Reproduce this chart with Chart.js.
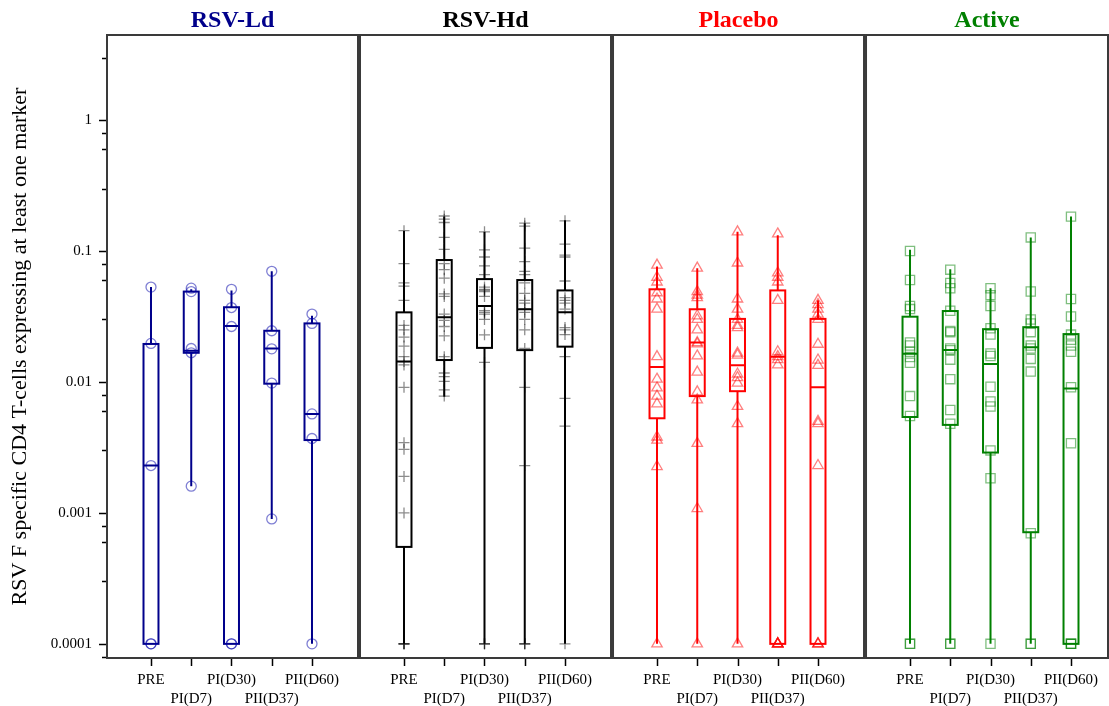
<!DOCTYPE html>
<html>
<head>
<meta charset="utf-8">
<script src="https://cdn.jsdelivr.net/npm/chart.js@4"></script>
<style>
  body { margin: 0; background: #fff; }
  #wrap { width: 1109px; height: 706px; }
</style>
</head>
<body>
<div id="wrap"><canvas id="chartBox" width="1109" height="706"></canvas></div>
<script>
// categories
const timepoints = ['PRE', 'PI(D7)', 'PI(D30)', 'PII(D37)', 'PII(D60)'];
const groupNames = ['RSV-Ld', 'RSV-Hd', 'Placebo', 'Active'];

// box stats per timepoint: [min, q1, median, q3, max]
const ldBoxes = [
    [0.0001, 0.0001, 0.0023, 0.0195, 0.053],
    [0.0016, 0.0167, 0.0173, 0.049, 0.051],
    [0.0001, 0.0001, 0.0268, 0.0372, 0.050],
    [0.0009, 0.0097, 0.018, 0.0246, 0.070],
    [0.0001, 0.0036, 0.0057, 0.028, 0.032]
];
const hdBoxes = [
    [0.0001, 0.00055, 0.0143, 0.034, 0.143],
    [0.0077, 0.0147, 0.0312, 0.0853, 0.183],
    [0.0001, 0.0182, 0.038, 0.061, 0.14],
    [0.0001, 0.0175, 0.0359, 0.060, 0.163],
    [0.0001, 0.0186, 0.034, 0.050, 0.172]
];
const placeboBoxes = [
    [0.0001, 0.00528, 0.013, 0.051, 0.076],
    [0.0001, 0.0078, 0.020, 0.0359, 0.0737],
    [0.0001, 0.0085, 0.0134, 0.0303, 0.140],
    [0.0001, 0.0001, 0.0156, 0.050, 0.132],
    [0.0001, 0.0001, 0.0091, 0.0303, 0.042]
];
const activeBoxes = [
    [0.0001, 0.0054, 0.0164, 0.0315, 0.102],
    [0.0001, 0.0047, 0.0175, 0.0348, 0.0725],
    [0.0001, 0.00289, 0.0137, 0.0253, 0.052],
    [0.0001, 0.000712, 0.0184, 0.0262, 0.127],
    [0.0001, 0.0001, 0.0089, 0.0232, 0.183]
];

// individual subjects per timepoint
const ldPoints = [
    [0.053, 0.0197, 0.0023, 0.0001, 0.0001],
    [0.052, 0.049, 0.018, 0.0167, 0.0016],
    [0.051, 0.037, 0.0265, 0.0001, 0.0001],
    [0.070, 0.0246, 0.0179, 0.0098, 0.0009],
    [0.033, 0.028, 0.0057, 0.0037, 0.0001]
];
const hdPoints = [
    [0.143, 0.080, 0.057, 0.054, 0.042, 0.027, 0.025, 0.022, 0.0188, 0.0156, 0.0143, 0.0135, 0.0091, 0.00344, 0.00306, 0.0019, 0.001, 0.0001, 0.0001, 0.0001, 0.0001],
    [0.185, 0.175, 0.165, 0.127, 0.103, 0.080, 0.072, 0.062, 0.047, 0.045, 0.033, 0.0295, 0.0265, 0.0225, 0.0156, 0.0148, 0.0117, 0.011, 0.0101, 0.0087, 0.0078],
    [0.14, 0.102, 0.09, 0.077, 0.066, 0.053, 0.051, 0.050, 0.049, 0.045, 0.035, 0.034, 0.033, 0.03, 0.0229, 0.0141, 0.0001, 0.0001, 0.0001],
    [0.163, 0.155, 0.105, 0.083, 0.070, 0.066, 0.057, 0.0475, 0.042, 0.040, 0.036, 0.034, 0.030, 0.025, 0.018, 0.0091, 0.0023, 0.0001, 0.0001, 0.0001],
    [0.17, 0.113, 0.093, 0.09, 0.059, 0.044, 0.042, 0.040, 0.036, 0.026, 0.025, 0.023, 0.0156, 0.0075, 0.0046, 0.0001]
];
const placeboPoints = [
    [0.078, 0.063, 0.058, 0.048, 0.043, 0.036, 0.0156, 0.0105, 0.009, 0.0078, 0.0068, 0.0038, 0.0036, 0.00226, 0.0001],
    [0.074, 0.049, 0.046, 0.044, 0.032, 0.030, 0.025, 0.020, 0.0195, 0.0158, 0.0119, 0.0084, 0.0073, 0.0034, 0.00108, 0.0001],
    [0.14, 0.081, 0.043, 0.036, 0.030, 0.027, 0.026, 0.0166, 0.016, 0.0115, 0.0108, 0.0098, 0.0065, 0.0048, 0.0001],
    [0.135, 0.068, 0.063, 0.058, 0.042, 0.017, 0.0156, 0.0148, 0.0135, 0.0001, 0.0001, 0.0001, 0.0001, 0.0001],
    [0.042, 0.039, 0.036, 0.033, 0.030, 0.0194, 0.0147, 0.0134, 0.005, 0.0048, 0.0023, 0.0001, 0.0001, 0.0001]
];
const activePoints = [
    [0.1, 0.06, 0.038, 0.036, 0.020, 0.019, 0.017, 0.0155, 0.014, 0.0078, 0.0055, 0.0001, 0.0001],
    [0.072, 0.057, 0.052, 0.035, 0.0245, 0.024, 0.018, 0.0175, 0.0148, 0.0105, 0.0061, 0.0048, 0.0001, 0.0001],
    [0.052, 0.046, 0.038, 0.0257, 0.023, 0.0165, 0.0158, 0.0092, 0.0071, 0.0065, 0.003, 0.00184, 0.0001],
    [0.127, 0.049, 0.030, 0.028, 0.024, 0.019, 0.018, 0.015, 0.012, 0.0007, 0.0001, 0.0001],
    [0.183, 0.043, 0.0316, 0.023, 0.021, 0.019, 0.017, 0.0091, 0.0034, 0.0001, 0.0001, 0.0001]
];

const boxSets = [ldBoxes, hdBoxes, placeboBoxes, activeBoxes];
const pointSets = [ldPoints, hdPoints, placeboPoints, activePoints];

// look
const lineColors = ['#00008B', '#000000', '#FF0000', '#008000'];
const markColors = ['rgba(0,0,170,0.5)', 'rgba(0,0,0,0.45)', 'rgba(255,0,0,0.5)', 'rgba(0,128,0,0.5)'];
const markStyles = ['circle', 'cross', 'triangle', 'rect'];
const markSizes = [5, 5.5, 6, 6.5];

const PANEL = 6.286;     // x units per panel
const XMIN = -0.093;
const HALF = 0.186;      // half box width in x units
const SERIF = '"Liberation Serif", "Times New Roman", serif';

Chart.defaults.font.family = SERIF;
Chart.defaults.color = '#000';

const xPos = (g, c) => g * PANEL + c + 1;

const datasets = pointSets.map((pts, g) => ({
    label: groupNames[g],
    data: pts.flatMap((vals, c) => vals.map(v => ({ x: xPos(g, c), y: v }))),
    pointStyle: markStyles[g],
    pointRadius: markSizes[g],
    borderColor: markColors[g],
    backgroundColor: 'rgba(0,0,0,0)',
    borderWidth: 1.3,
    showLine: false
}));

const boxPlugin = {
    id: 'boxes',
    beforeDatasetsDraw(chart) {
        const { ctx, scales: { x, y } } = chart;
        ctx.save();
        ctx.lineWidth = 2;
        boxSets.forEach((boxes, g) => {
            ctx.strokeStyle = lineColors[g];
            boxes.forEach((b, c) => {
                const xc = x.getPixelForValue(xPos(g, c));
                const xl = x.getPixelForValue(xPos(g, c) - HALF);
                const xr = x.getPixelForValue(xPos(g, c) + HALF);
                const [mn, q1, md, q3, mx] = b.map(v => y.getPixelForValue(v));
                ctx.beginPath();
                ctx.moveTo(xc, mn); ctx.lineTo(xc, q1);
                ctx.moveTo(xc, q3); ctx.lineTo(xc, mx);
                ctx.moveTo(xl, md); ctx.lineTo(xr, md);
                ctx.stroke();
                ctx.strokeRect(xl, q3, xr - xl, q1 - q3);
            });
        });
        ctx.restore();
    },
    afterDraw(chart) {
        const { ctx, chartArea, scales: { x, y } } = chart;
        ctx.save();
        // tick marks
        ctx.strokeStyle = '#000';
        ctx.lineWidth = 1.5;
        ctx.beginPath();
        y.ticks.forEach(t => {
            const py = Math.round(y.getPixelForValue(t.value)) + 0.5;
            const len = t.major ? 7 : 4;
            ctx.moveTo(chartArea.left - len - 1, py);
            ctx.lineTo(chartArea.left - 1, py);
        });
        x.ticks.forEach(t => {
            const px = Math.round(x.getPixelForValue(t.value)) + 0.5;
            ctx.moveTo(px, chartArea.bottom + 1);
            ctx.lineTo(px, chartArea.bottom + 8);
        });
        ctx.stroke();
        // panel frames and titles
        groupNames.forEach((name, g) => {
            const left = x.getPixelForValue(g * PANEL + XMIN);
            const right = g < 3 ? x.getPixelForValue((g + 1) * PANEL + XMIN) - 2 : chartArea.right;
            ctx.strokeStyle = '#3a3a3a';
            ctx.lineWidth = 2;
            ctx.strokeRect(left, chartArea.top, right - left, chartArea.bottom - chartArea.top);
            ctx.fillStyle = lineColors[g];
            ctx.font = 'bold 24px ' + SERIF;
            ctx.textAlign = 'center';
            ctx.textBaseline = 'middle';
            ctx.fillText(name, (left + right) / 2, 21);
        });
        ctx.restore();
    }
};

new Chart(document.getElementById('chartBox'), {
    type: 'scatter',
    data: { datasets },
    plugins: [boxPlugin],
    options: {
        responsive: false,
        animation: false,
        devicePixelRatio: 1,
        layout: { autoPadding: false, padding: { top: 35, right: 1, bottom: 0, left: 0 } },
        plugins: { legend: { display: false }, tooltip: { enabled: false } },
        scales: {
            x: {
                type: 'linear',
                min: XMIN,
                max: XMIN + 24.87,
                afterBuildTicks: (scale) => {
                    scale.ticks = groupNames.flatMap((n, g) => timepoints.map((t, c) => ({ value: xPos(g, c) })));
                },
                afterFit: (scale) => {
                    scale.height = 48;
                    scale.paddingLeft = 0;
                    scale.paddingRight = 0;
                },
                grid: { display: false },
                border: { display: false },
                ticks: {
                    autoSkip: false,
                    maxRotation: 0,
                    padding: 5,
                    font: { size: 15, lineHeight: 1.25 },
                    callback: (v, i) => {
                        const c = i % timepoints.length;
                        return c % 2 === 1 ? ['', timepoints[c]] : [timepoints[c]];
                    }
                }
            },
            y: {
                type: 'logarithmic',
                min: 0.000078,
                max: 4.46,
                afterBuildTicks: (scale) => {
                    const ticks = [];
                    for (let e = -5; e <= 0; e++) {
                        for (let m = 1; m <= 9; m++) {
                            const v = m * Math.pow(10, e);
                            if (v >= scale.min && v <= scale.max) ticks.push({ value: v, major: m === 1 });
                        }
                    }
                    scale.ticks = ticks;
                },
                afterFit: (scale) => {
                    scale.width = 107;
                    scale.paddingTop = 0;
                    scale.paddingBottom = 0;
                },
                grid: { display: false },
                border: { display: false },
                ticks: {
                    padding: 7,
                    font: { size: 15 },
                    callback: (v, i, ticks) => ticks[i].major ? String(v) : ''
                },
                title: {
                    display: true,
                    text: 'RSV F specific CD4 T-cells expressing at least one marker',
                    font: { size: 22 },
                    padding: { top: 7, bottom: 0 }
                }
            }
        }
    }
});
</script>
</body>
</html>
